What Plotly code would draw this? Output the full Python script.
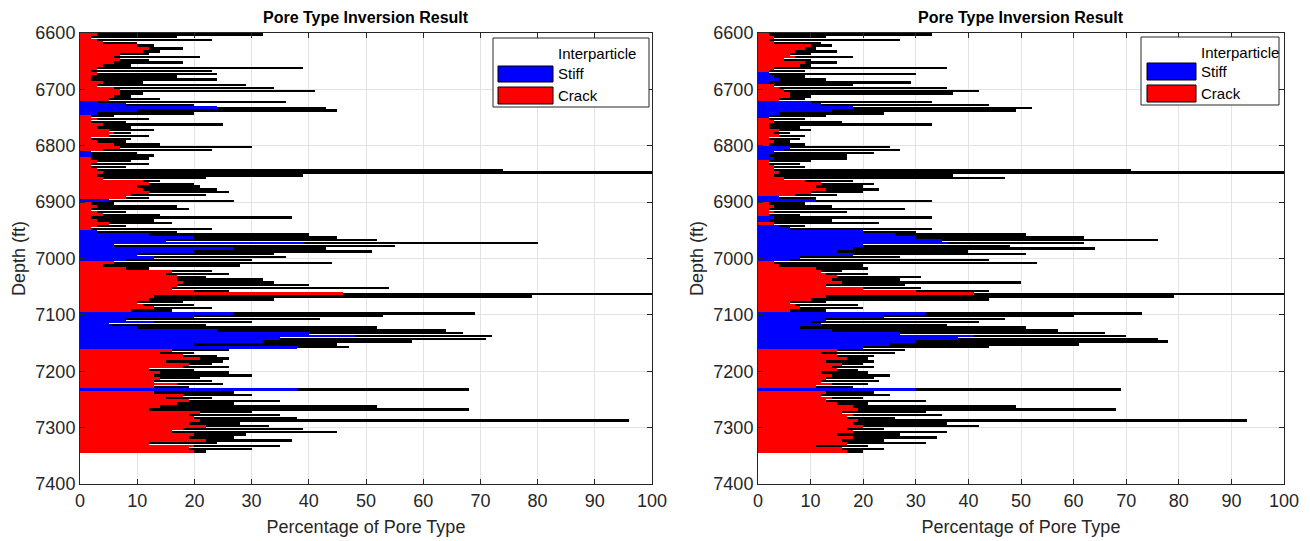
import plotly.graph_objects as go

# ---------------- data (5-ft depth samples, top = 6600 ft) ----------------
depth_top = 6600
depth_step = 5
n_samples = 149
depths = [depth_top + depth_step * (i + 0.5) for i in range(n_samples)]

left_crack = [
    3, 2, 3, 4, 10, 12, 11, 7, 6, 7,
    6, 4, 3, 2, 3, 2, 2, 4, 3, 6,
    7, 7, 6, 5, 0, 0, 0, 0, 0, 2,
    3, 2, 4, 3, 5, 6, 5, 2, 3, 6,
    7, 4, 0, 0, 2, 3, 2, 2, 3, 4,
    3, 4, 11, 12, 10, 11, 12, 9, 8, 0,
    2, 3, 2, 3, 4, 2, 3, 5, 3, 2,
    0, 0, 0, 0, 0, 0, 0, 0, 0, 0,
    0, 6, 4, 8, 16, 15, 17, 17, 18, 17,
    16, 20, 46, 13, 12, 10, 11, 13, 9, 0,
    0, 0, 0, 0, 0, 0, 0, 0, 0, 0,
    0, 0, 16, 14, 18, 21, 15, 19, 18, 12,
    14, 13, 14, 13, 17, 13, 0, 13, 18, 15,
    19, 17, 14, 12, 21, 19, 20, 21, 19, 22,
    18, 16, 20, 19, 22, 12, 20, 19, 20,
]
left_stiff = [
    0, 0, 0, 0, 0, 0, 0, 0, 0, 0,
    0, 0, 0, 0, 0, 0, 0, 0, 0, 0,
    0, 0, 0, 0, 3, 8, 24, 10, 3, 0,
    0, 0, 0, 0, 0, 0, 0, 0, 0, 0,
    0, 0, 2, 2, 0, 0, 0, 0, 0, 0,
    0, 0, 0, 0, 0, 0, 0, 0, 0, 5,
    0, 0, 0, 0, 0, 0, 0, 0, 0, 0,
    3, 12, 20, 15, 39, 6, 27, 20, 10, 13,
    8, 0, 0, 0, 0, 0, 0, 0, 0, 0,
    0, 0, 0, 0, 0, 0, 0, 0, 0, 27,
    20, 8, 13, 5, 10, 24, 40, 48, 35, 32,
    20, 38, 0, 0, 0, 0, 0, 0, 0, 0,
    0, 0, 0, 0, 0, 0, 38, 0, 0, 0,
    0, 0, 0, 0, 0, 0, 0, 0, 0, 0,
    0, 0, 0, 0, 0, 0, 0, 0, 0,
]
left_total = [
    32, 17, 23, 10, 13, 18, 14, 12, 21, 12,
    18, 9, 39, 23, 24, 17, 24, 11, 29, 34,
    41, 11, 9, 14, 36, 20, 43, 45, 20, 6,
    12, 8, 25, 9, 13, 9, 12, 9, 8, 14,
    30, 23, 10, 13, 12, 9, 12, 8, 74, 100,
    39, 22, 14, 20, 21, 24, 26, 22, 12, 27,
    6, 17, 19, 8, 14, 37, 13, 16, 8, 23,
    17, 40, 45, 52, 80, 55, 43, 51, 34, 36,
    30, 44, 28, 12, 23, 26, 22, 32, 34, 40,
    54, 26, 100, 79, 34, 18, 20, 23, 16, 69,
    53, 42, 30, 22, 52, 64, 67, 72, 71, 58,
    45, 47, 26, 20, 24, 26, 25, 23, 26, 20,
    26, 30, 21, 23, 25, 19, 68, 27, 30, 23,
    35, 27, 52, 68, 30, 35, 38, 96, 28, 33,
    39, 45, 29, 27, 37, 24, 35, 30, 22,
]

right_crack = [
    2, 3, 2, 3, 10, 9, 7, 6, 7, 5,
    9, 8, 3, 2, 0, 0, 0, 0, 3, 4,
    5, 6, 6, 4, 0, 0, 0, 0, 0, 0,
    2, 3, 2, 2, 4, 3, 4, 2, 3, 2,
    0, 0, 0, 0, 0, 2, 2, 3, 3, 4,
    3, 5, 9, 12, 11, 13, 10, 7, 0, 0,
    2, 3, 2, 3, 2, 0, 0, 3, 0, 0,
    0, 0, 0, 0, 0, 0, 0, 0, 0, 0,
    0, 3, 4, 11, 12, 13, 15, 14, 16, 13,
    20, 30, 41, 13, 10, 6, 7, 8, 6, 0,
    0, 0, 0, 0, 0, 0, 0, 0, 0, 0,
    0, 0, 15, 12, 15, 17, 13, 16, 14, 15,
    12, 14, 13, 12, 14, 11, 0, 13, 12, 14,
    13, 15, 18, 19, 16, 18, 17, 19, 18, 20,
    17, 18, 15, 18, 16, 17, 11, 16, 17,
]
right_stiff = [
    0, 0, 0, 0, 0, 0, 0, 0, 0, 0,
    0, 0, 0, 0, 2, 3, 4, 2, 0, 0,
    0, 0, 0, 0, 10, 12, 18, 14, 4, 2,
    0, 0, 0, 0, 0, 0, 0, 0, 0, 0,
    6, 5, 3, 2, 3, 0, 0, 0, 0, 0,
    0, 0, 0, 0, 0, 0, 0, 0, 4, 11,
    0, 0, 0, 0, 0, 3, 2, 0, 4, 6,
    20, 26, 30, 35, 36, 20, 18, 15, 18, 8,
    6, 0, 0, 0, 0, 0, 0, 0, 0, 0,
    0, 0, 0, 0, 0, 0, 0, 0, 0, 32,
    24, 13, 10, 12, 8, 14, 27, 41, 38, 30,
    25, 20, 0, 0, 0, 0, 0, 0, 0, 0,
    0, 0, 0, 0, 0, 0, 30, 0, 0, 0,
    0, 0, 0, 0, 0, 0, 0, 0, 0, 0,
    0, 0, 0, 0, 0, 0, 0, 0, 0,
]
right_total = [
    33, 13, 27, 12, 14, 11, 15, 10, 18, 10,
    15, 10, 36, 9, 30, 9, 13, 29, 18, 36,
    42, 37, 10, 9, 33, 44, 52, 49, 24, 13,
    9, 16, 33, 8, 10, 6, 9, 8, 6, 9,
    25, 27, 22, 17, 17, 10, 8, 9, 71, 100,
    37, 47, 18, 22, 20, 23, 20, 15, 11, 33,
    9, 14, 28, 17, 8, 33, 14, 23, 9, 33,
    30, 51, 62, 76, 62, 48, 64, 40, 51, 27,
    44, 53, 20, 21, 16, 21, 31, 27, 50, 28,
    31, 44, 100, 79, 44, 13, 19, 20, 13, 73,
    60, 47, 42, 36, 51, 57, 66, 70, 76, 78,
    61, 44, 28, 26, 22, 21, 22, 20, 22, 19,
    21, 25, 22, 23, 21, 18, 69, 22, 25, 20,
    32, 21, 49, 68, 32, 35, 26, 93, 36, 42,
    24, 36, 27, 34, 24, 32, 21, 24, 20,
]

x_ticks = [0, 10, 20, 30, 40, 50, 60, 70, 80, 90, 100]
y_ticks = [6600, 6700, 6800, 6900, 7000, 7100, 7200, 7300, 7400]
title_text = "Pore Type Inversion Result"
x_label = "Percentage of Pore Type"
y_label = "Depth (ft)"
legend_names = ["Interparticle", "Stiff", "Crack"]
colors = {"Interparticle": "#000000", "Stiff": "#0000ff", "Crack": "#ff0000"}

# ---------------- figure ----------------
W, H = 1310, 541
FONT = "Liberation Sans, Arial, Helvetica, sans-serif"
INK = "#262626"

def px(x):
    return x / W

def py(y):
    return 1 - y / H

fig = go.Figure()

panels = [
    ("x", "y", left_crack, left_stiff, left_total),
    ("x2", "y2", right_crack, right_stiff, right_total),
]
bar_widths = {"Crack": depth_step, "Stiff": depth_step, "Interparticle": depth_step * 0.85}
for xa, ya, crack, stiff, total in panels:
    inter = [max(t - c - s, 0) for t, c, s in zip(total, crack, stiff)]
    for name, vals in (("Crack", crack), ("Stiff", stiff), ("Interparticle", inter)):
        fig.add_trace(go.Bar(
            y=depths, x=vals, orientation="h", name=name,
            width=bar_widths[name], xaxis=xa, yaxis=ya,
            marker=dict(color=colors[name], line=dict(width=0)),
            showlegend=False,
        ))

axis_common = dict(
    showline=True, linecolor=INK, linewidth=1, mirror="ticks",
    ticks="inside", ticklen=5, tickcolor=INK, tickwidth=1,
    showgrid=True, gridcolor="#e3e3e3", gridwidth=1, zeroline=False,
    automargin=False,
    tickfont=dict(family=FONT, size=18, color=INK),
)
xdom1 = [px(80), px(652)]
xdom2 = [px(758), px(1284)]
ydom = [py(484), py(33)]

for i, (xd, xa, ya) in enumerate([(xdom1, "xaxis", "yaxis"), (xdom2, "xaxis2", "yaxis2")]):
    anchor_y = "y" if i == 0 else "y2"
    anchor_x = "x" if i == 0 else "x2"
    fig.update_layout(**{
        xa: dict(axis_common, domain=xd, anchor=anchor_y, range=[0, 100],
                 tickvals=x_ticks,
                 title=dict(text=x_label, standoff=10,
                            font=dict(family=FONT, size=18, color=INK))),
        ya: dict(axis_common, domain=ydom, anchor=anchor_x, range=[7400, 6600],
                 tickvals=y_ticks,
                 title=dict(text=y_label, standoff=5,
                            font=dict(family=FONT, size=18, color=INK))),
    })

annotations = []
shapes = []
for xd in (xdom1, xdom2):
    annotations.append(dict(
        text="<b>" + title_text + "</b>", xref="paper", yref="paper",
        x=(xd[0] + xd[1]) / 2, y=py(18), xanchor="center", yanchor="middle",
        showarrow=False, font=dict(family=FONT, size=16, color="#000000"),
    ))

# legend boxes (MATLAB style)
legend_specs = [
    dict(box=(493, 38, 649, 107), sw=(498, 553), blue=(66, 82), red=(87, 104), tx=556),
    dict(box=(1141, 37, 1279, 105), sw=(1147, 1196), blue=(63, 80), red=(85, 102), tx=1199),
]
for spec in legend_specs:
    x0, y0, x1, y1 = spec["box"]
    shapes.append(dict(type="rect", xref="paper", yref="paper",
                       x0=px(x0), x1=px(x1), y0=py(y1), y1=py(y0),
                       line=dict(color=INK, width=1), fillcolor="white", layer="above"))
    for name, (a, b) in (("Stiff", spec["blue"]), ("Crack", spec["red"])):
        shapes.append(dict(type="rect", xref="paper", yref="paper",
                           x0=px(spec["sw"][0]), x1=px(spec["sw"][1]), y0=py(b), y1=py(a),
                           line=dict(color="#000000", width=1), fillcolor=colors[name],
                           layer="above"))
    ys = [y0 + 15, (spec["blue"][0] + spec["blue"][1]) / 2, (spec["red"][0] + spec["red"][1]) / 2]
    for name, yy in zip(legend_names, ys):
        annotations.append(dict(
            text=name, xref="paper", yref="paper", x=px(spec["tx"]), y=py(yy),
            xanchor="left", yanchor="middle", showarrow=False,
            font=dict(family=FONT, size=15, color="#000000"),
        ))

fig.update_layout(
    width=W, height=H, margin=dict(l=0, r=0, t=0, b=0),
    paper_bgcolor="white", plot_bgcolor="white",
    barmode="stack", bargap=0, showlegend=False,
    annotations=annotations, shapes=shapes,
    font=dict(family=FONT, color=INK),
)

fig.write_html("out.html", config={"responsive": False})
